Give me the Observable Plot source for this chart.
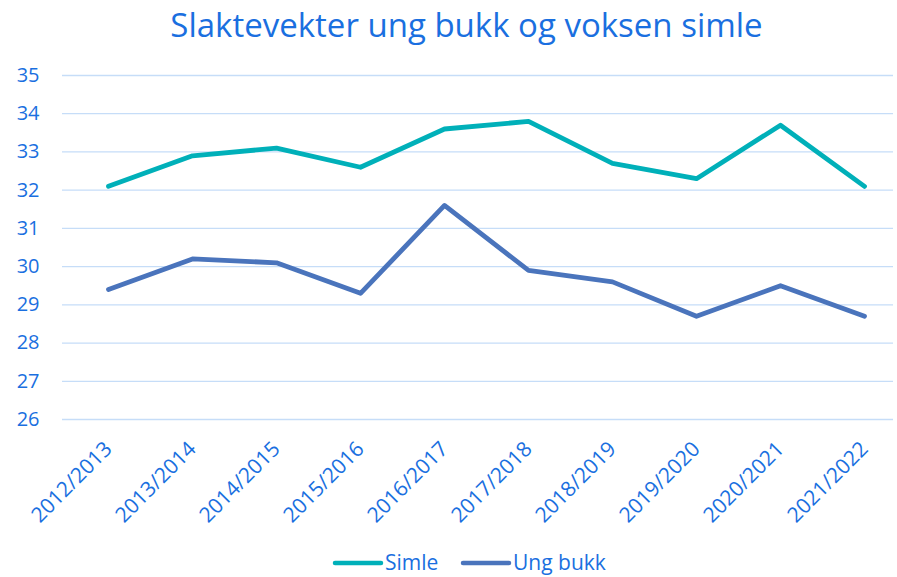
<!DOCTYPE html>
<html>
<head>
<meta charset="utf-8">
<script src="https://cdn.jsdelivr.net/npm/d3@7"></script>
<script src="https://cdn.jsdelivr.net/npm/@observablehq/plot@0.6"></script>
<style>
  body { margin: 0; background: #fff; font-family: "Open Sans", sans-serif; }
  #title { height: 50px; line-height: 50px; font-size: 33px; color: #1a6fe0; text-align: center; padding-left: 36px; white-space: nowrap; }
  #legend { position: relative; height: 37px; font-size: 21px; color: #1a6fe0; }
  #legend span { position: absolute; top: 4px; display: inline-flex; align-items: center; gap: 1px; line-height: 37px; }
  #chart svg g[aria-label="x-axis tick label"] text { font-size: 21px; }
  #chart svg g[aria-label="y-axis tick label"] text { font-size: 20px; }
</style>
</head>
<body>
<div id="title">Slaktevekter ung bukk og voksen simle</div>
<div id="chart"></div>
<div id="legend"></div>
<script>
const seasons = ["2012/2013","2013/2014","2014/2015","2015/2016","2016/2017","2017/2018","2018/2019","2019/2020","2020/2021","2021/2022"];
const simle = [32.1, 32.9, 33.1, 32.6, 33.6, 33.8, 32.7, 32.3, 33.7, 32.1];
const ungBukk = [29.4, 30.2, 30.1, 29.3, 31.6, 29.9, 29.6, 28.7, 29.5, 28.7];
const seriesNames = ["Simle", "Ung bukk"];
const colors = ["#00b0b9", "#4a74bc"];
const yTicks = [26, 27, 28, 29, 30, 31, 32, 33, 34, 35];

const data = [
  ...seasons.map((s, i) => ({season: s, value: simle[i], series: seriesNames[0]})),
  ...seasons.map((s, i) => ({season: s, value: ungBukk[i], series: seriesNames[1]}))
];

const textColor = "#1a6fe0";

const chart = Plot.plot({
  width: 897,
  height: 490,
  marginLeft: 62,
  marginRight: 4,
  marginTop: 25,
  marginBottom: 121,
  style: {fontFamily: "Open Sans, sans-serif", fontSize: "20px", color: textColor, background: "#fff"},
  x: {type: "point", domain: seasons, padding: 0, insetLeft: 42, insetRight: 26},
  y: {domain: [26, 35]},
  color: {domain: seriesNames, range: colors},
  marks: [
    Plot.ruleY(yTicks, {stroke: "#c6ddf8", strokeWidth: 1.3}),
    Plot.axisY({ticks: yTicks, tickSize: 0, tickPadding: 23, label: null, fill: textColor}),
    Plot.axisX({tickRotate: -45, tickSize: 0, tickPadding: 26, label: null, fill: textColor}),
    Plot.line(data, {x: "season", y: "value", z: "series", stroke: "series", strokeWidth: 4.8, strokeLinecap: "round", strokeLinejoin: "round"})
  ]
});
document.getElementById("chart").appendChild(chart);

const legend = document.getElementById("legend");
const legendLeft = [332, 460];
seriesNames.forEach((n, i) => {
  const sp = document.createElement("span");
  sp.style.left = legendLeft[i] + "px";
  sp.innerHTML = `<svg width="52" height="10"><line x1="3" y1="5" x2="49" y2="5" stroke="${colors[i]}" stroke-width="4.5" stroke-linecap="round"/></svg>${n}`;
  legend.appendChild(sp);
});
</script>
</body>
</html>
